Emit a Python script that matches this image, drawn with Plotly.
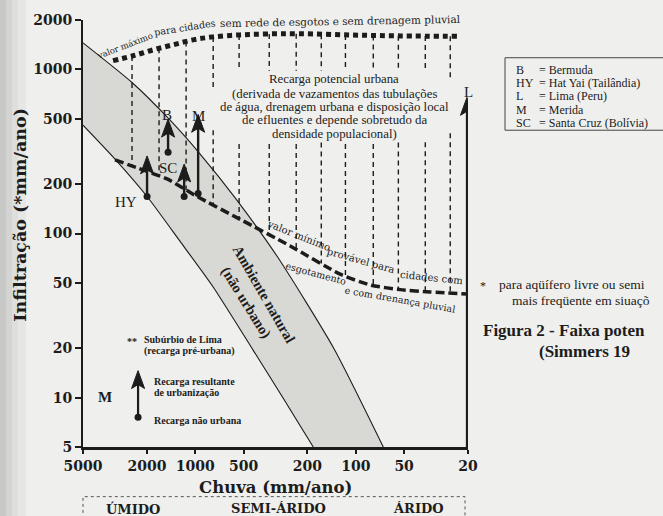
import numpy as np
import plotly.graph_objects as go

# ---------------- data (chuva mm/ano , infiltração mm/ano) ----------------
x_tickvals = [5000, 2000, 1000, 500, 200, 100, 50, 20]
y_tickvals = [5, 10, 20, 50, 100, 200, 500, 1000, 2000]

# natural (non-urban) recharge band
band_upper_rain = [5000, 2475, 1434, 932, 564, 309, 138, 67.4]
band_upper_inf = [1452, 832, 490, 305, 165, 72.6, 20.2, 5]
band_lower_rain = [5000, 3160, 1995, 1242, 773, 435, 283, 184]
band_lower_inf = [457, 284, 168, 89.5, 47.2, 19.4, 9.9, 5]

# maximum value (no sewerage, no storm drainage)
max_rain = [3250, 2440, 1832, 1375, 1032, 774, 525, 357, 222, 108, 52.8, 23]
max_inf = [1130, 1211, 1315, 1412, 1514, 1578, 1623, 1644, 1650, 1620, 1600, 1590]

# minimum probable value (with sewerage and storm drainage)
min_rain = [3160, 2300, 1497, 973, 525, 256, 125, 81, 52.8, 34.4, 20.2]
min_inf = [281, 251, 215, 168, 122, 84, 56.5, 48.5, 45.5, 44, 42.8]

# hatching of the potential urban recharge zone
grid_rain = [2475, 1680, 1140, 773, 533, 346, 235, 164, 116, 77.8, 54.3, 36.9, 25.8]
grid_gap_top = [None, None, None, 776, 982, 982, 982, 982, 982, 982, 982, 982, 867]
grid_gap_bot = [None, None, None, 426, 351, 351, 351, 358, 351, 351, 358, 360, 408]

# cities: recharge before and after urbanisation
site_code = ["HY", "B", "SC", "M", "L"]
site_rain = [1995, 1476, 1172, 959, 20.3]
site_inf_natural = [168, 313, 168, 175, 5]
site_inf_urban = [297, 497, 265, 532, 675]

# key arrow (legend inside the plot)
key_rain = 2270
key_inf_natural = 7.6
key_inf_urban = 14.6

legend_codes = ["B", "HY", "L", "M", "SC"]
legend_names = ["= Bermuda", "= Hat Yai (Tailândia)", "= Lima (Peru)", "= Merida",
                "= Santa Cruz (Bolívia)"]
climate_zones = ["ÚMIDO", "SEMI-ÁRIDO", "ÁRIDO"]

# ---------------- layout geometry / style ----------------
W, H = 663, 516
ML, MR, MT, MB = 83, 195, 17, 69
PW, PH = W - ML - MR, H - MT - MB
XR = [np.log10(5000), np.log10(20)]
YR = [np.log10(5), np.log10(2000)]
XPD = PW / (XR[0] - XR[1])
YPD = PH / (YR[1] - YR[0])

BG = "#efefed"
INK = "#1c1c1c"
BAND = "#d8d8d5"
SERIF = "Liberation Serif"
WIDE = "DejaVu Serif"

fig = go.Figure()

# band fill
band_x = band_upper_rain + band_lower_rain[::-1]
band_y = band_upper_inf + band_lower_inf[::-1]
fig.add_trace(go.Scatter(x=band_x, y=band_y, mode="lines", fill="toself",
                         fillcolor=BAND, line=dict(width=0), hoverinfo="skip"))
for rx, iy in [(band_upper_rain, band_upper_inf), (band_lower_rain, band_lower_inf)]:
    fig.add_trace(go.Scatter(x=rx, y=iy, mode="lines",
                             line=dict(color=INK, width=1.1, shape="spline", smoothing=0.6),
                             hoverinfo="skip"))


# vertical hatching between the two limit curves
def log_interp(r, rains, infs):
    lr = np.log10(np.array(rains, dtype=float))[::-1]
    li = np.log10(np.array(infs, dtype=float))[::-1]
    return 10 ** np.interp(np.log10(r), lr, li)


gx, gy = [], []
for r, gt, gb in zip(grid_rain, grid_gap_top, grid_gap_bot):
    top = log_interp(r, max_rain, max_inf)
    bot = log_interp(r, min_rain, min_inf)
    if gt is None:
        gx += [r, r, None]
        gy += [top, bot, None]
    else:
        gx += [r, r, None, r, r, None]
        gy += [top, gt, None, gb, bot, None]
fig.add_trace(go.Scatter(x=gx, y=gy, mode="lines",
                         line=dict(color=INK, width=1.4, dash="5px,4px"), hoverinfo="skip"))

# limit curves
fig.add_trace(go.Scatter(x=max_rain, y=max_inf, mode="lines",
                         line=dict(color=INK, width=5, dash="5px,4px", shape="spline"),
                         hoverinfo="skip"))
fig.add_trace(go.Scatter(x=min_rain, y=min_inf, mode="lines",
                         line=dict(color=INK, width=3.5, dash="9px,4px", shape="spline",
                                   smoothing=0.6),
                         hoverinfo="skip"))

HEAD_LEN, HEAD_HALF = 18, 6.5


def arrow(rain, tail, tip, width=2.4, dot=True):
    lx, ly = np.log10(rain), np.log10(tip)
    dx, dy = HEAD_HALF / XPD, HEAD_LEN / YPD
    hx = 10 ** np.array([lx, lx - dx, lx, lx + dx, lx])
    hy = 10 ** np.array([ly, ly - dy, ly - 0.78 * dy, ly - dy, ly])
    fig.add_trace(go.Scatter(x=[rain, rain], y=[tail, 10 ** (ly - 0.6 * dy)], mode="lines",
                             line=dict(color=INK, width=width), hoverinfo="skip"))
    fig.add_trace(go.Scatter(x=hx, y=hy, mode="lines", fill="toself", fillcolor=INK,
                             line=dict(color=INK, width=1), hoverinfo="skip"))
    if dot:
        fig.add_trace(go.Scatter(x=[rain], y=[tail], mode="markers",
                                 marker=dict(color=INK, size=7), hoverinfo="skip"))


for code, r, t0, t1 in zip(site_code, site_rain, site_inf_natural, site_inf_urban):
    arrow(r, t0, t1, width=2.2 if code == "L" else 2.4, dot=(code != "L"))
arrow(key_rain, key_inf_natural, key_inf_urban, width=2.2)

# ---------------- annotations ----------------
ann = []


def pp(px, py):
    return (px - ML) / PW, (MT + PH - py) / PH


def label(text, px, py, size=12, family=SERIF, angle=0, xanchor="center", bold=False,
          color=INK):
    x, y = pp(px, py)
    ann.append(dict(text=f"<b>{text}</b>" if bold else text, x=x, y=y, xref="paper",
                    yref="paper", showarrow=False, xanchor=xanchor, yanchor="middle",
                    textangle=angle, font=dict(family=family, size=size, color=color)))


# axis titles
label("Chuva (mm/ano)", 275, 488, size=16.5, family=WIDE, bold=True)
label("Infiltração (*mm/ano)", 20, 213, size=17.5, family=WIDE, bold=True, angle=-90)

# site labels
for code, (px, py) in zip(site_code, [(126, 200), (167, 113), (168, 166), (198, 114), (468, 90)]):
    label(code, px, py, size=15)

# curve texts
label("valor máximo", 124, 43, size=8.5, family=WIDE, angle=-21)
label("para cidades", 185, 25, size=9.5, family=WIDE, angle=-9)
label("sem rede de esgotos e sem drenagem pluvial", 340, 18, size=10.5, family=WIDE, angle=-1)
label("valor mínimo", 299, 234, size=10, family=WIDE, angle=22)
label("provável para", 361, 259, size=10, family=WIDE, angle=16)
label("cidades com", 431, 276, size=10, family=WIDE, angle=6)
label("esgotamento", 316, 272, size=9.5, family=WIDE, angle=15)
label("e com drenança pluvial", 400, 298, size=9.5, family=WIDE, angle=10)

# natural band
label("Ambiente natural", 264, 293, size=14.5, bold=True, angle=60)
label("(não urbano)", 246, 301, size=14.5, bold=True, angle=58)

# potential urban recharge block
block = ["Recarga potencial urbana", "(derivada de vazamentos das tubulações",
         "de água, drenagem urbana e disposição local", "de efluentes e depende sobretudo da",
         "densidade populacional)"]
for txt, py in zip(block, [76, 92, 105, 118, 132]):
    label(txt, 334, py, size=12.8)

# key inside plot
label("**", 132, 341, size=10, bold=True)
label("Subúrbio de Lima", 142, 339, size=10, bold=True, xanchor="left")
label("(recarga pré-urbana)", 142, 350, size=10, bold=True, xanchor="left")
label("Recarga resultante", 152, 381, size=10, bold=True, xanchor="left")
label("de urbanização", 152, 392, size=10, bold=True, xanchor="left")
label("Recarga não urbana", 152, 420, size=10, bold=True, xanchor="left")
label("M", 105, 397, size=15, bold=True)

# legend box on the right
for i, (c, n) in enumerate(zip(legend_codes, legend_names)):
    py = 67 + i * 13.5
    label(c, 514, py, size=12, xanchor="left")
    label(n, 537, py, size=12, xanchor="left")

# footnote & caption (cut by the page edge in the original)
label("*", 483, 285, size=12, xanchor="center")
label("para aqüífero livre ou semi", 497, 283, size=13.5, xanchor="left")
label("mais freqüente em siuaçõ", 510, 299, size=13.5, xanchor="left")
label("Figura 2 - Faixa poten", 481, 330, size=17, bold=True, xanchor="left")
label("(Simmers 19", 537, 351, size=17, bold=True, xanchor="left")

# climate zones
for z, px in zip(climate_zones, [133, 278, 418]):
    label(z, px, 509, size=13, family=WIDE, bold=True)

# ---------------- shapes ----------------
shapes = []


def rect_px(x0, y0, x1, y1, **kw):
    a, b = pp(x0, y1)
    c, d = pp(x1, y0)
    shapes.append(dict(type="rect", xref="paper", yref="paper", x0=a, y0=b, x1=c, y1=d, **kw))


# scan shadow on left edge
for x0, x1, op in [(0, 6, 0.16), (6, 12, 0.11), (12, 18, 0.07), (18, 26, 0.035)]:
    rect_px(x0, -5, x1, 525, fillcolor=f"rgba(0,0,0,{op})", line=dict(width=0), layer="below")

rect_px(505, 55, 680, 128, line=dict(color="#444", width=1), fillcolor="rgba(0,0,0,0)")
rect_px(83, 497, 465, 530, line=dict(color="#555", width=1, dash="dot"),
        fillcolor="rgba(0,0,0,0)")

fig.update_layout(
    width=W, height=H, margin=dict(l=ML, r=MR, t=MT, b=MB, pad=0),
    paper_bgcolor=BG, plot_bgcolor=BG, showlegend=False,
    annotations=ann, shapes=shapes,
    xaxis=dict(type="log", range=XR, autorange=False, showgrid=False, zeroline=False,
               showline=True, linecolor=INK, linewidth=2.5, ticks="outside", ticklen=4,
               tickwidth=1.5, tickcolor=INK, tickvals=x_tickvals,
               ticktext=[f"<b>{v}</b>" for v in x_tickvals],
               tickfont=dict(family=WIDE, size=14, color=INK)),
    yaxis=dict(type="log", range=YR, autorange=False, showgrid=False, zeroline=False,
               showline=True, linecolor=INK, linewidth=2, ticks="outside", ticklen=6,
               tickwidth=1.5, tickcolor=INK, tickvals=y_tickvals,
               ticktext=[f"<b>{v}</b>" for v in y_tickvals],
               tickfont=dict(family=WIDE, size=14, color=INK)),
)

fig.write_html("out.html", config={"displayModeBar": False},
               post_script="document.body.style.margin='0px';"
                           "document.body.style.overflow='hidden';")
